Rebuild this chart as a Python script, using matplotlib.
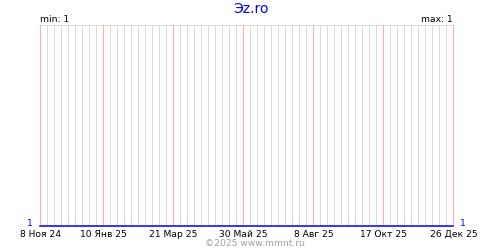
import matplotlib
matplotlib.use("Agg")
import matplotlib.pyplot as plt
import matplotlib.dates as mdates
import numpy as np
import datetime as dt

# Data
dates = ["2024-11-08", "2025-12-26"]
values = [1, 1]
tick_dates = ["2024-11-08", "2025-01-10", "2025-03-21", "2025-05-30",
              "2025-08-08", "2025-10-17", "2025-12-26"]
tick_labels = ["8 Ноя 24", "10 Янв 25", "21 Мар 25", "30 Май 25",
               "8 Авг 25", "17 Окт 25", "26 Дек 25"]
title = "Эz.ro"
min_text = "min: 1"
max_text = "max: 1"
footer = "©2025 www.mmnt.ru"

plt.rcParams['font.family'] = ['DejaVu Sans']

fig = plt.figure(figsize=(5, 2.5), dpi=100)
# offsets of half a pixel so 1px lines land on pixel centres
ax = fig.add_axes([40.5/500, 24.5/250, 413/500, 200/250])

x = [mdates.date2num(dt.date.fromisoformat(d)) for d in dates]
tx = [mdates.date2num(dt.date.fromisoformat(d)) for d in tick_dates]

ax.set_xlim(x[0], x[-1])
ax.set_ylim(1, 2)

weekly = np.arange(x[0], x[-1] + 0.5, 7)
minor = [w for w in weekly if all(abs(w - t) > 0.5 for t in tx)]
for w in minor:
    ax.axvline(w, color='#dcdcdc', linewidth=0.72, snap=False,
               clip_on=False, zorder=1)
for t in tx:
    ax.axvline(t, color='#ffb0b0', linewidth=0.8, snap=False,
               clip_on=False, zorder=2)

ax.set_xticks(tx)
ax.set_xticklabels(tick_labels, fontsize=6.6)
ax.tick_params(axis='x', which='both', length=0, pad=3.2)
ax.set_yticks([])

for s in ['left', 'right', 'bottom', 'top']:
    ax.spines[s].set_visible(False)
ax.axhline(2, color='#dcdcdc', linewidth=0.72, snap=False, clip_on=False, zorder=1)

ax.plot(x, values, color='#0000e6', linewidth=1.1, clip_on=False, zorder=5)

fig.text(251/500, 1 - 9/250, title, color='#0000ee', fontsize=10,
         ha='center', va='center')
fig.text(40/500, 1 - 19/250, min_text, fontsize=6.6, ha='left', va='center')
fig.text(453/500, 1 - 19/250, max_text, fontsize=6.6, ha='right', va='center')
fig.text(30/500, 1 - 224/250, "1", color='#0000e6', fontsize=6.6, ha='center', va='center')
fig.text(463/500, 1 - 224/250, "1", color='#0000e6', fontsize=6.6, ha='center', va='center')
fig.text(255/500, 1 - 243/250, footer, color='#a0a0a0', fontsize=6.6,
         ha='center', va='center')

fig.savefig("out.png", dpi=100)
